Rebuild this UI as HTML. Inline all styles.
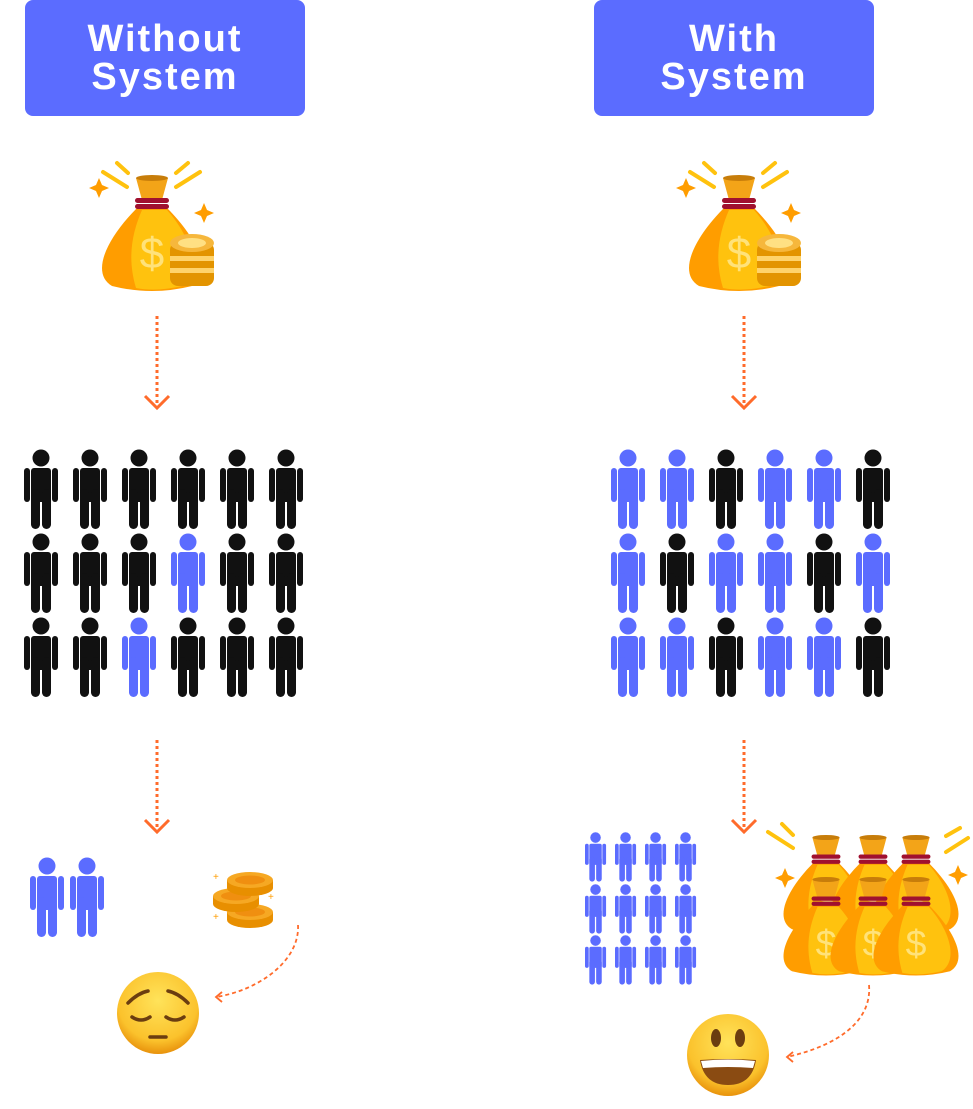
<!DOCTYPE html>
<html><head><meta charset="utf-8"><style>
html,body{margin:0;padding:0;background:#fff;width:973px;height:1109px;overflow:hidden}
.hd{position:absolute;top:0;width:280px;height:116px;background:#5b6cff;border-radius:8px;color:#fff;font-family:"Liberation Sans",sans-serif;font-weight:bold;font-size:38px;letter-spacing:2px;text-align:center;line-height:38px;box-sizing:border-box;padding-top:20px}
svg{position:absolute;left:0;top:0}
</style></head><body>
<div class="hd" style="left:25px">Without<br>System</div>
<div class="hd" style="left:594px">With<br>System</div>
<svg width="973" height="1109" viewBox="0 0 973 1109">
<defs>
<g id="p">
<circle cx="17" cy="9" r="8.5"/>
<rect x="7" y="19" width="20" height="34" rx="3"/>
<rect x="0" y="19" width="6" height="34" rx="3"/>
<rect x="28" y="19" width="6" height="34" rx="3"/>
<rect x="7" y="40" width="9" height="40" rx="4.5"/>
<rect x="18" y="40" width="9" height="40" rx="4.5"/>
</g>
<g id="bag">
<path d="M-15 -20 L15 -20 C45 10 62 45 40 58 Q0 68 -40 58 C-62 45 -45 10 -15 -20 Z" fill="#ff9d00"/>
<path d="M-10 -18 L15 -18 C40 10 50 45 30 58 Q5 64 -16 60 C-25 30 -20 5 -10 -18 Z" fill="#ffc20e"/>
<path d="M-16 -50 L16 -50 L10 -28 L-10 -28 Z" fill="#f3a418"/>
<ellipse cx="0" cy="-50" rx="16" ry="3" fill="#c77d0a"/>
<rect x="-17" y="-30" width="34" height="5" rx="2.5" fill="#a0102f"/>
<rect x="-17" y="-24" width="34" height="5" rx="2.5" fill="#a0102f"/>
<text x="0" y="40" text-anchor="middle" font-family="Liberation Sans,sans-serif" font-size="44" fill="#ffe27a">$</text>
</g>
<g id="coin">
<ellipse cx="0" cy="6" rx="23" ry="8" fill="#e88f00"/>
<rect x="-23" y="-2" width="46" height="8" fill="#e88f00"/>
<ellipse cx="0" cy="-2" rx="23" ry="8" fill="#f6a823"/>
<ellipse cx="0" cy="-2" rx="15" ry="4.5" fill="#f08f10"/>
</g>
</defs>
<g transform="translate(152,228)"><use href="#bag"/></g>
<g transform="translate(739,228)"><use href="#bag"/></g>
<g id="stk">
<rect x="170" y="242" width="44" height="44" rx="8" fill="#e39400"/>
<rect x="170" y="256" width="44" height="5" fill="#ffd36b"/><rect x="170" y="268" width="44" height="5" fill="#ffd36b"/>
<ellipse cx="192" cy="243" rx="22" ry="9" fill="#f6b73c"/><ellipse cx="192" cy="243" rx="14" ry="5" fill="#ffe083"/>
</g>
<use href="#stk" transform="translate(587,0)"/>
<g stroke="#ffc20e" stroke-width="4" stroke-linecap="round">
<line x1="103" y1="172" x2="127" y2="187"/><line x1="117" y1="163" x2="128" y2="173"/>
<line x1="176" y1="187" x2="200" y2="172"/><line x1="176" y1="173" x2="188" y2="163"/>
<line x1="690" y1="172" x2="714" y2="187"/><line x1="704" y1="163" x2="715" y2="173"/>
<line x1="763" y1="187" x2="787" y2="172"/><line x1="763" y1="173" x2="775" y2="163"/>
</g>
<g fill="#ff9d00">
<path d="M99 178 l3 7 7 3 -7 3 -3 7 -3 -7 -7 -3 7 -3z"/><path d="M204 203 l3 7 7 3 -7 3 -3 7 -3 -7 -7 -3 7 -3z"/>
<path d="M686 178 l3 7 7 3 -7 3 -3 7 -3 -7 -7 -3 7 -3z"/><path d="M791 203 l3 7 7 3 -7 3 -3 7 -3 -7 -7 -3 7 -3z"/>
</g>
<g stroke="#ff6b2b" stroke-width="3" fill="none">
<line x1="157" y1="316" x2="157" y2="406" stroke-dasharray="3 3"/><polyline points="145,396 157,408 169,396"/>
<line x1="744" y1="316" x2="744" y2="406" stroke-dasharray="3 3"/><polyline points="732,396 744,408 756,396"/>
<line x1="157" y1="740" x2="157" y2="830" stroke-dasharray="3 3"/><polyline points="145,820 157,832 169,820"/>
<line x1="744" y1="740" x2="744" y2="830" stroke-dasharray="3 3"/><polyline points="732,820 744,832 756,820"/>
</g>
<g stroke="#ff6b2b" stroke-width="1.8" fill="none" stroke-dasharray="4 3">
<path d="M298 925 C300 960 260 990 216 997"/>
<path d="M869 985 C872 1020 840 1045 787 1057"/>
</g>
<g stroke="#ff6b2b" stroke-width="1.8" fill="none">
<polyline points="222,992 216,997 222,1002"/><polyline points="793,1052 787,1057 793,1062"/>
</g>
<g fill="#111">
<use href="#p" x="24" y="449"/><use href="#p" x="73" y="449"/><use href="#p" x="122" y="449"/><use href="#p" x="171" y="449"/><use href="#p" x="220" y="449"/><use href="#p" x="269" y="449"/>
<use href="#p" x="24" y="533"/><use href="#p" x="73" y="533"/><use href="#p" x="122" y="533"/><use href="#p" x="171" y="533" fill="#5b6cff"/><use href="#p" x="220" y="533"/><use href="#p" x="269" y="533"/>
<use href="#p" x="24" y="617"/><use href="#p" x="73" y="617"/><use href="#p" x="122" y="617" fill="#5b6cff"/><use href="#p" x="171" y="617"/><use href="#p" x="220" y="617"/><use href="#p" x="269" y="617"/>
</g>
<g fill="#5b6cff">
<use href="#p" x="611" y="449"/><use href="#p" x="660" y="449"/><use href="#p" x="709" y="449" fill="#111"/><use href="#p" x="758" y="449"/><use href="#p" x="807" y="449"/><use href="#p" x="856" y="449" fill="#111"/>
<use href="#p" x="611" y="533"/><use href="#p" x="660" y="533" fill="#111"/><use href="#p" x="709" y="533"/><use href="#p" x="758" y="533"/><use href="#p" x="807" y="533" fill="#111"/><use href="#p" x="856" y="533"/>
<use href="#p" x="611" y="617"/><use href="#p" x="660" y="617"/><use href="#p" x="709" y="617" fill="#111"/><use href="#p" x="758" y="617"/><use href="#p" x="807" y="617"/><use href="#p" x="856" y="617" fill="#111"/>
<use href="#p" x="30" y="857"/><use href="#p" x="70" y="857"/>
</g>
<g fill="#5b6cff">
<g transform="translate(585,832) scale(0.62)"><use href="#p"/></g><g transform="translate(615,832) scale(0.62)"><use href="#p"/></g><g transform="translate(645,832) scale(0.62)"><use href="#p"/></g><g transform="translate(675,832) scale(0.62)"><use href="#p"/></g>
<g transform="translate(585,884) scale(0.62)"><use href="#p"/></g><g transform="translate(615,884) scale(0.62)"><use href="#p"/></g><g transform="translate(645,884) scale(0.62)"><use href="#p"/></g><g transform="translate(675,884) scale(0.62)"><use href="#p"/></g>
<g transform="translate(585,935) scale(0.62)"><use href="#p"/></g><g transform="translate(615,935) scale(0.62)"><use href="#p"/></g><g transform="translate(645,935) scale(0.62)"><use href="#p"/></g><g transform="translate(675,935) scale(0.62)"><use href="#p"/></g>
</g>
<use href="#coin" transform="translate(250,914)"/>
<use href="#coin" transform="translate(236,898)"/>
<use href="#coin" transform="translate(250,882)"/>
<g fill="#ff9d00" font-family="Liberation Sans,sans-serif" font-size="10"><text x="213" y="880">+</text><text x="268" y="900">+</text><text x="213" y="920">+</text></g>
<g transform="translate(826,880) scale(0.85)"><use href="#bag"/></g>
<g transform="translate(873,880) scale(0.85)"><use href="#bag"/></g>
<g transform="translate(916,880) scale(0.85)"><use href="#bag"/></g>
<g transform="translate(826,922) scale(0.85)"><use href="#bag"/></g>
<g transform="translate(873,922) scale(0.85)"><use href="#bag"/></g>
<g transform="translate(916,922) scale(0.85)"><use href="#bag"/></g>
<g stroke="#ffc20e" stroke-width="4" stroke-linecap="round">
<line x1="768" y1="832" x2="793" y2="848"/><line x1="782" y1="824" x2="793" y2="835"/>
<line x1="946" y1="852" x2="968" y2="838"/><line x1="946" y1="836" x2="960" y2="828"/>
</g>
<g fill="#ff9d00"><path d="M785 868 l3 7 7 3 -7 3 -3 7 -3 -7 -7 -3 7 -3z"/><path d="M958 865 l3 7 7 3 -7 3 -3 7 -3 -7 -7 -3 7 -3z"/></g>
<defs><radialGradient id="f" cx="0.5" cy="0.35" r="0.65"><stop offset="0" stop-color="#ffe35a"/><stop offset="0.75" stop-color="#fbc22c"/><stop offset="1" stop-color="#e8920c"/></radialGradient></defs>
<circle cx="158" cy="1013" r="41" fill="url(#f)"/>
<g stroke="#6b3d10" stroke-width="3.5" fill="none" stroke-linecap="round">
<path d="M128 1003 q10 -10 20 -12"/><path d="M188 1003 q-10 -10 -20 -12"/>
<path d="M132 1017 q9 6 18 0"/><path d="M166 1017 q9 6 18 0"/>
<line x1="150" y1="1037" x2="166" y2="1037"/>
</g>
<circle cx="728" cy="1055" r="41" fill="url(#f)"/>
<ellipse cx="716" cy="1038" rx="5" ry="9" fill="#6b3d10"/><ellipse cx="740" cy="1038" rx="5" ry="9" fill="#6b3d10"/>
<path d="M700 1060 Q728 1058 756 1060 Q752 1085 728 1085 Q704 1085 700 1060Z" fill="#8a4b12"/>
<path d="M701 1061 Q728 1058 755 1061 L753 1068 Q728 1066 703 1068Z" fill="#fff"/>
</svg>
</body></html>
